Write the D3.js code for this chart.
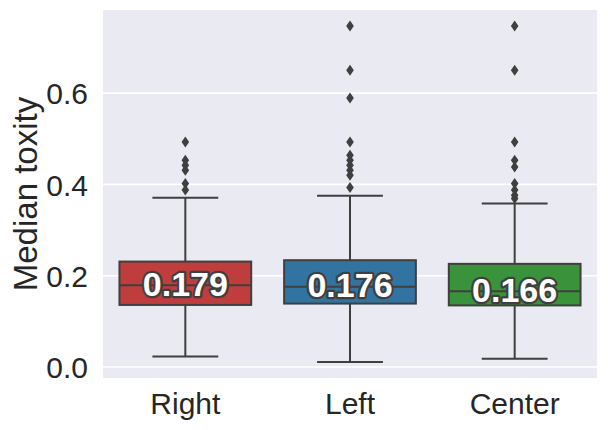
<!DOCTYPE html>
<html><head><meta charset="utf-8">
<script src="https://cdn.jsdelivr.net/npm/d3@7"></script>
<style>body{margin:0;background:#fff;} svg{display:block;font-family:"Liberation Sans",Arial,sans-serif;}</style>
</head><body>
<svg id="c" width="608" height="430"></svg>
<script>
const categories = ["Right", "Left", "Center"];
const colors = ["#c03d3e", "#3274a1", "#3a923a"];
const q1 = [0.136, 0.139, 0.135];
const medians = [0.179, 0.176, 0.166];
const q3 = [0.231, 0.234, 0.226];
const whiskerLow = [0.023, 0.011, 0.018];
const whiskerHigh = [0.371, 0.375, 0.358];
const medianLabels = ["0.179", "0.176", "0.166"];
const outliers = [
  [0.493, 0.453, 0.442, 0.431, 0.402, 0.388],
  [0.747, 0.650, 0.589, 0.493, 0.464, 0.453, 0.442, 0.431, 0.420, 0.393],
  [0.747, 0.650, 0.493, 0.453, 0.438, 0.402, 0.388, 0.376, 0.369]
];
const yTicks = [0.0, 0.2, 0.4, 0.6];

(function () {
const svg = d3.select("#c");
const pL = 103, pR = 597, pT = 10, pB = 378;
const x = d3.scaleBand().domain(categories).range([pL, pR]).padding(0);
const y = d3.scaleLinear().domain([-0.024, 0.782]).range([pB, pT]);
const line = "#3f3f3f";
const ff = '"Liberation Sans",Arial,sans-serif';

svg.append("rect").attr("x", pL).attr("y", pT).attr("width", pR - pL).attr("height", pB - pT).attr("fill", "#eaeaf2");

svg.append("g").selectAll("line").data(yTicks).join("line")
  .attr("x1", pL).attr("x2", pR)
  .attr("y1", d => y(d)).attr("y2", d => y(d))
  .attr("stroke", "#fff").attr("stroke-width", 1.6);

const yAxis = d3.axisLeft(y).tickValues(yTicks).tickFormat(d3.format(".1f")).tickSize(0).tickPadding(15);
const ga = svg.append("g").attr("transform", `translate(${pL},0)`).call(yAxis);
ga.select(".domain").remove();
ga.selectAll("text").attr("font-size", 30).attr("fill", "#262626").attr("font-family", ff).attr("dy", "0.36em");

const xAxis = d3.axisBottom(x).tickSize(0).tickPadding(14);
const gx = svg.append("g").attr("transform", `translate(0,${pB})`).call(xAxis);
gx.select(".domain").remove();
gx.selectAll("text").attr("font-size", 30).attr("fill", "#262626").attr("font-family", ff).attr("dy", "0.72em");

svg.append("text").attr("transform", `translate(37,${(pT + pB) / 2}) rotate(-90)`)
  .attr("text-anchor", "middle").attr("font-size", 33).attr("fill", "#262626").text("Median toxity");

const bw = x.bandwidth() * 0.8;
const wl = bw * 0.5;
categories.forEach((c, i) => {
  const cx = x(c) + x.bandwidth() / 2;
  const g = svg.append("g");
  g.append("line").attr("x1", cx).attr("x2", cx).attr("y1", y(q3[i])).attr("y2", y(whiskerHigh[i])).attr("stroke", line).attr("stroke-width", 2);
  g.append("line").attr("x1", cx).attr("x2", cx).attr("y1", y(q1[i])).attr("y2", y(whiskerLow[i])).attr("stroke", line).attr("stroke-width", 2);
  g.append("line").attr("x1", cx - wl / 2).attr("x2", cx + wl / 2).attr("y1", y(whiskerHigh[i])).attr("y2", y(whiskerHigh[i])).attr("stroke", line).attr("stroke-width", 2);
  g.append("line").attr("x1", cx - wl / 2).attr("x2", cx + wl / 2).attr("y1", y(whiskerLow[i])).attr("y2", y(whiskerLow[i])).attr("stroke", line).attr("stroke-width", 2);
  g.append("rect").attr("x", cx - bw / 2).attr("width", bw).attr("y", y(q3[i])).attr("height", y(q1[i]) - y(q3[i]))
    .attr("fill", colors[i]).attr("stroke", line).attr("stroke-width", 2);
  g.append("line").attr("x1", cx - bw / 2).attr("x2", cx + bw / 2).attr("y1", y(medians[i])).attr("y2", y(medians[i])).attr("stroke", line).attr("stroke-width", 2);
  g.selectAll("path.o").data(outliers[i]).join("path").attr("class", "o")
    .attr("d", d => `M${cx},${y(d) - 5.5}L${cx + 3.8},${y(d)}L${cx},${y(d) + 5.5}L${cx - 3.8},${y(d)}Z`)
    .attr("fill", line);
  g.append("text").attr("x", cx).attr("y", y(medians[i]) + 10.5).attr("text-anchor", "middle")
    .attr("font-size", 34).attr("font-weight", "bold").attr("fill", "#fff")
    .attr("stroke", line).attr("stroke-width", 4.5).attr("paint-order", "stroke").attr("stroke-linejoin", "round")
    .text(medianLabels[i]);
});
})();
</script>
</body></html>
